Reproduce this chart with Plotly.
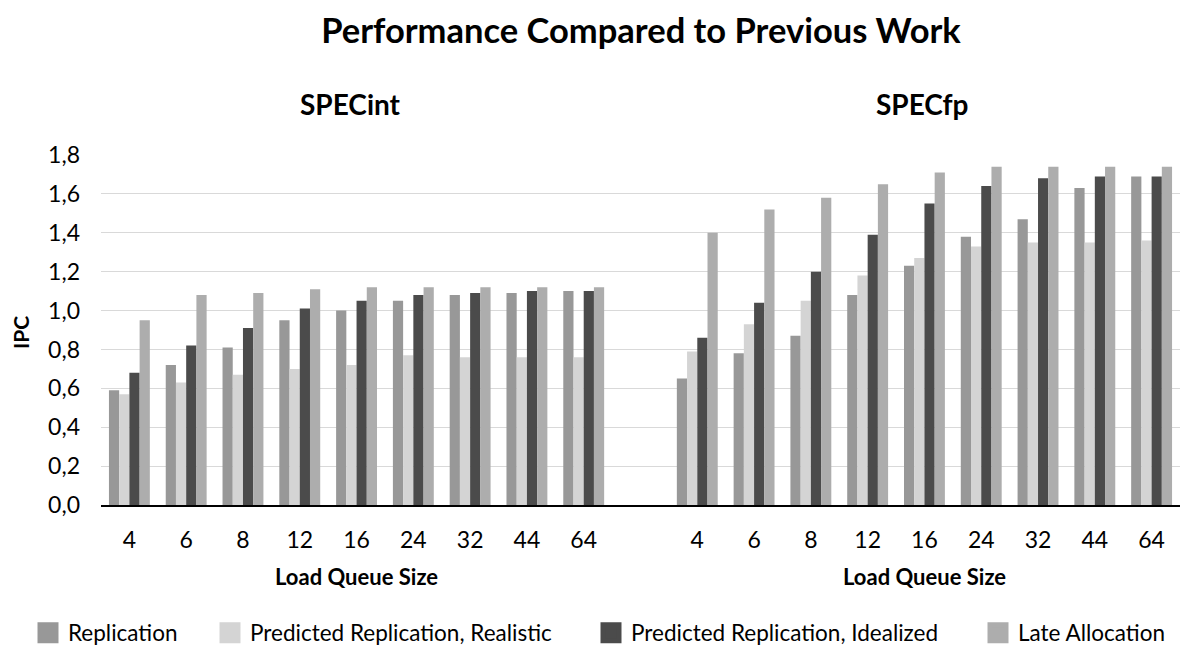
import plotly.graph_objects as go

# Load queue sizes (shared by both benchmark suites)
queue_sizes = ["4", "6", "8", "12", "16", "24", "32", "44", "64"]

series_names = [
    "Replication",
    "Predicted Replication, Realistic",
    "Predicted Replication, Idealized",
    "Late Allocation",
]
series_colors = ["#989898", "#d4d4d4", "#4b4b4b", "#adadad"]

# IPC values, SPECint
int_replication = [0.59, 0.72, 0.81, 0.95, 1.00, 1.05, 1.08, 1.09, 1.10]
int_realistic = [0.57, 0.63, 0.67, 0.70, 0.72, 0.77, 0.76, 0.76, 0.76]
int_idealized = [0.68, 0.82, 0.91, 1.01, 1.05, 1.08, 1.09, 1.10, 1.10]
int_late = [0.95, 1.08, 1.09, 1.11, 1.12, 1.12, 1.12, 1.12, 1.12]

# IPC values, SPECfp
fp_replication = [0.65, 0.78, 0.87, 1.08, 1.23, 1.38, 1.47, 1.63, 1.69]
fp_realistic = [0.79, 0.93, 1.05, 1.18, 1.27, 1.33, 1.35, 1.35, 1.36]
fp_idealized = [0.86, 1.04, 1.20, 1.39, 1.55, 1.64, 1.68, 1.69, 1.69]
fp_late = [1.40, 1.52, 1.58, 1.65, 1.71, 1.74, 1.74, 1.74, 1.74]

int_series = [int_replication, int_realistic, int_idealized, int_late]
fp_series = [fp_replication, fp_realistic, fp_idealized, fp_late]

# One shared category axis: SPECint slots, one empty slot, then SPECfp slots
n = len(queue_sizes)
x_int = list(range(n))
x_fp = [n + 1 + i for i in range(n)]
tick_vals = x_int + x_fp
tick_text = queue_sizes + queue_sizes

W, H = 1182, 646
ML, MR, MT, MB = 101, 2, 155, 141
PW, PH = W - ML - MR, H - MT - MB
FONT = "Lato"
LEGEND_Y = 633


def px_x(px):
    return (px - ML) / PW


def px_y(py):
    return (H - MB - py) / PH


fig = go.Figure()

for i, name in enumerate(series_names):
    fig.add_trace(go.Bar(
        x=x_int + x_fp,
        y=int_series[i] + fp_series[i],
        name=name,
        marker=dict(color=series_colors[i], line=dict(width=0)),
        showlegend=False,
    ))

# Legend entries: square swatches, each legend placed on its own
legend_x = [28, 210, 591, 978]
for i, name in enumerate(series_names):
    key = "legend" if i == 0 else f"legend{i + 1}"
    fig.add_trace(go.Scatter(
        x=[None], y=[None], mode="markers", name=name,
        marker=dict(symbol="square", size=16, color=series_colors[i],
                    line=dict(color=series_colors[i], width=5)),
        legend=key, showlegend=True,
    ))
    fig.layout[key] = dict(
        x=legend_x[i] / W, xref="container", xanchor="left",
        y=1 - LEGEND_Y / H, yref="container", yanchor="middle",
        orientation="h", bgcolor="rgba(0,0,0,0)",
        font=dict(family=FONT, size=22.5, color="#000000"),
        itemsizing="trace",
    )

fig.update_layout(
    width=W, height=H,
    margin=dict(l=ML, r=MR, t=MT, b=MB),
    paper_bgcolor="#ffffff", plot_bgcolor="#ffffff",
    barmode="group", bargap=0.28, bargroupgap=0,
    separators=",.",
    font=dict(family=FONT, color="#000000"),
    title=dict(
        text="<b>Performance Compared to Previous Work</b>",
        x=641 / W, xref="container", xanchor="center",
        y=1 - 31 / H, yref="container", yanchor="middle",
        font=dict(family=FONT, size=34.5, color="#000000"),
    ),
    xaxis=dict(
        tickmode="array", tickvals=tick_vals, ticktext=tick_text,
        range=[-0.5, 2 * n + 0.5],
        showgrid=False, zeroline=False,
        showline=True, linecolor="#000000", linewidth=2,
        ticks="", ticklabelstandoff=13,
        tickfont=dict(family=FONT, size=23, color="#000000"),
    ),
    yaxis=dict(
        range=[0, 1.8], dtick=0.2, tickformat=".1f",
        showgrid=True, gridcolor="#d9d9d9", gridwidth=1.3,
        zeroline=False, showline=False, ticks="",
        ticklabelstandoff=20,
        tickfont=dict(family=FONT, size=23, color="#000000"),
    ),
)

annotations = [
    dict(text="<b>SPECint</b>", x=3.9, xref="x", y=px_y(104), yref="paper",
         yanchor="middle", showarrow=False, font=dict(family=FONT, size=28)),
    dict(text="<b>SPECfp</b>", x=13.95, xref="x", y=px_y(104), yref="paper",
         yanchor="middle", showarrow=False, font=dict(family=FONT, size=28)),
    dict(text="<b>Load Queue Size</b>", x=(n - 1) / 2, xref="x", y=px_y(576),
         yref="paper", yanchor="middle", showarrow=False,
         font=dict(family=FONT, size=22)),
    dict(text="<b>Load Queue Size</b>", x=n + 1 + (n - 1) / 2, xref="x",
         y=px_y(576), yref="paper", yanchor="middle", showarrow=False,
         font=dict(family=FONT, size=22)),
    dict(text="<b>IPC</b>", x=px_x(20), xref="paper", y=px_y(332), yref="paper",
         xanchor="center", yanchor="middle",
         textangle=-90, showarrow=False, font=dict(family=FONT, size=21)),
]
fig.update_layout(annotations=annotations)

fig.write_html("out.html")
